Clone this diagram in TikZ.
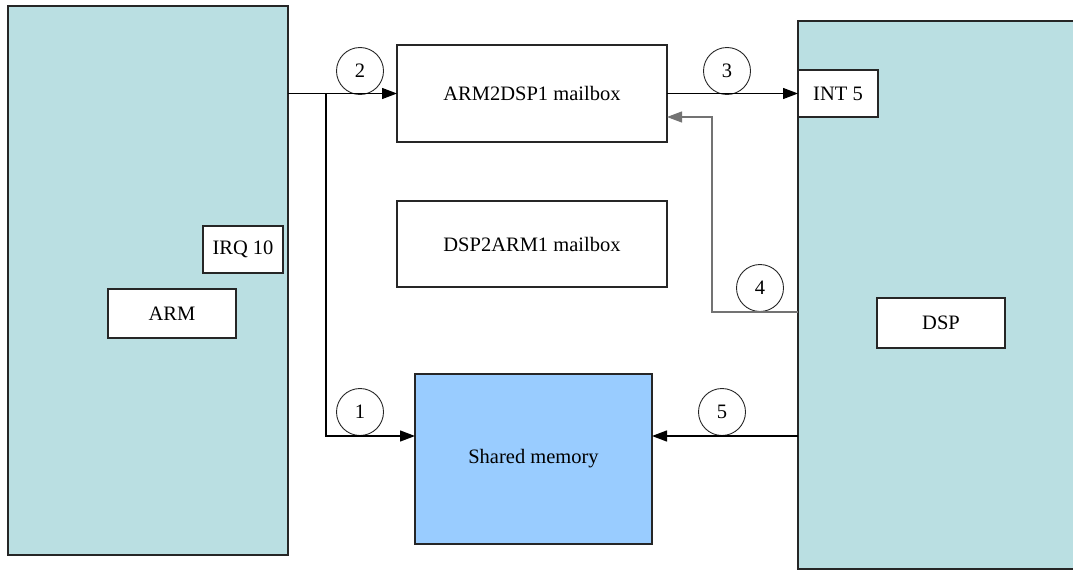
\documentclass[tikz,border=0pt]{standalone}
\usepackage{fontspec}
\setmainfont{Liberation Serif}
\usetikzlibrary{arrows.meta}
\definecolor{corefill}{HTML}{BADFE2}
\definecolor{memfill}{HTML}{99CCFF}
\begin{document}
\begin{tikzpicture}[x=1pt,y=-1pt,
  every node/.style={font=\fontsize{20.5}{22}\selectfont},
  blk/.style={draw=black!85,line width=1.3pt,anchor=north west,inner sep=0pt,outer sep=0pt},
  core/.style={blk,fill=corefill},
  lbl/.style={blk,fill=white},
  num/.style={draw=black!85,line width=0.9pt,circle,minimum size=47pt,inner sep=0pt},
  arr/.style={line width=1.3pt,-{Triangle[length=15pt,width=11pt]}},
  back/.style={draw=black!55,line width=1.1pt,-{Triangle[length=15pt,width=11pt]}}]
\useasboundingbox (0,0) rectangle (1073,570);
% processor blocks
\node[core,minimum width=280pt,minimum height=549pt] (arm) at (8,6) {};
\node[core,minimum width=276pt,minimum height=548pt] (dsp) at (798,21) {};
\node[lbl,minimum width=80pt,minimum height=47pt] (irq) at (203,226) {IRQ 10};
\node[lbl,minimum width=128pt,minimum height=49pt] (armlbl) at (108,289) {ARM};
\node[lbl,minimum width=80pt,minimum height=47pt] (int) at (798,70) {INT 5};
\node[lbl,minimum width=128pt,minimum height=50pt] (dsplbl) at (877,298) {DSP};
% mailboxes and shared memory
\node[lbl,minimum width=270pt,minimum height=97pt] (a2d) at (397,45) {ARM2DSP1 mailbox};
\node[lbl,minimum width=270pt,minimum height=86pt] (d2a) at (397,201) {DSP2ARM1 mailbox};
\node[blk,fill=memfill,minimum width=237pt,minimum height=170pt] (shm) at (415,374) {Shared memory};
% step numbers
\node[num] (c1) at (360,412) {1};
\node[num] (c2) at (360,71) {2};
\node[num] (c3) at (727,71) {3};
\node[num] (c4) at (760,288) {4};
\node[num] (c5) at (722,412) {5};
% connectors
\coordinate (fork) at (326,0);
\coordinate (up) at (712,0);
\coordinate (memin) at ([yshift=23pt]shm.west);
\coordinate (memback) at ([yshift=23pt]shm.east);
\draw[arr] (a2d.west -| arm.east) -- (a2d.west);
\draw[arr] (a2d.west -| fork) |- (memin);
\draw[arr] (a2d.east) -- (int.west);
\draw[back] (dsp.west |- c4.south) -- (c4.south) -- (c4.south -| up) |- ([yshift=-23.5pt]a2d.east);
\draw[arr] (dsp.west |- memback) -- (memback);
\end{tikzpicture}
\end{document}
